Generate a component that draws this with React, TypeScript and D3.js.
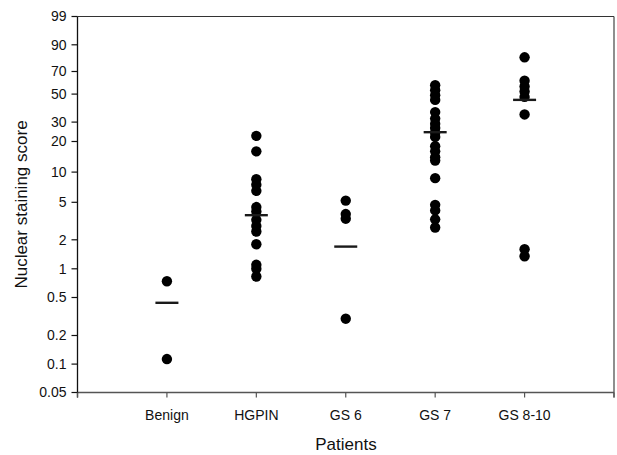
import React from "react";
import * as d3 from "d3";

// groups and their scores
const categories = ["Benign", "HGPIN", "GS 6", "GS 7", "GS 8-10"];
const benign = [0.74, 0.113];
const hgpin = [22.5, 16, 8.5, 7.5, 6.5, 4.45, 4.0, 3.26, 2.8, 2.45, 1.8, 1.1, 1.0, 0.83];
const gs6 = [5.2, 3.75, 3.35, 0.3];
const gs7 = [57, 53, 49, 45, 36, 32, 29, 26.5, 24, 22, 18, 16, 14, 13, 8.7, 4.7, 4.1, 3.3, 2.7];
const gs810 = [80, 61, 56, 52, 47.5, 34.5, 1.6, 1.35];
const means = [0.44, 3.65, 1.7, 24.3, 45];

const yTickValues = [0.05, 0.1, 0.2, 0.5, 1, 2, 5, 10, 20, 30, 50, 70, 90, 99];

const W = 617;
const H = 455;
const left = 77.5;
const right = 614;
const top = 16.5;
const bottom = 392.5;

// the y axis is a stretched log axis (probability-like at the top);
// calibrate where each tick sits as a share of the plot height
const tickShare = [0, 28.4, 57, 95, 123.7, 152.7, 190.2, 220.4, 251, 270.4, 298.4, 321, 347.7, 376].map(
    (h) => h / 376
);

const App = () => {
    const series = [benign, hgpin, gs6, gs7, gs810];

    const x = d3.scaleLinear().domain([0, categories.length + 1]).range([left, right]);
    const y = d3
        .scaleLog()
        .domain(yTickValues)
        .range(tickShare.map((s) => bottom - s * (bottom - top)));

    const font = "Arial, 'Liberation Sans', sans-serif";
    const xTicks = d3.range(0, categories.length + 2);

    return (
        <svg width={W} height={H} style={{ position: "absolute", left: 0, top: 0, background: "#fff" }}>
            {/* frame */}
            <line x1={left} x2={right} y1={top} y2={top} stroke="#333" strokeWidth={1.2} />
            <line x1={right} x2={right} y1={top} y2={bottom + 5} stroke="#444" strokeWidth={1.2} />
            <line x1={left} x2={right} y1={bottom} y2={bottom} stroke="#555" strokeWidth={1.3} />
            <line x1={left} x2={left} y1={top} y2={bottom + 5} stroke="#111" strokeWidth={1.3} />

            {/* y ticks */}
            {yTickValues.map((v) => (
                <g key={v}>
                    <line x1={left - 6} x2={left} y1={y(v)} y2={y(v)} stroke="#111" strokeWidth={1.2} />
                    <text
                        x={left - 11}
                        y={y(v)}
                        dy="0.35em"
                        textAnchor="end"
                        fontFamily={font}
                        fontSize={14}
                        fill="#111"
                    >
                        {v}
                    </text>
                </g>
            ))}

            {/* x ticks */}
            {xTicks.map((t) => (
                <line key={t} x1={x(t)} x2={x(t)} y1={bottom} y2={bottom + 5} stroke="#555" strokeWidth={1.2} />
            ))}
            {categories.map((c, i) => (
                <text
                    key={c}
                    x={x(i + 1)}
                    y={420}
                    textAnchor="middle"
                    fontFamily={font}
                    fontSize={14}
                    fill="#111"
                >
                    {c}
                </text>
            ))}

            {/* points */}
            {series.map((vals, i) =>
                vals.map((v, j) => <circle key={i + "-" + j} cx={x(i + 1)} cy={y(v)} r={5.2} fill="#000" />)
            )}

            {/* mean lines */}
            {means.map((m, i) => (
                <line
                    key={"m" + i}
                    x1={x(i + 1) - 11.5}
                    x2={x(i + 1) + 11.5}
                    y1={y(m)}
                    y2={y(m)}
                    stroke="#1a1a1a"
                    strokeWidth={2.4}
                />
            ))}

            {/* axis titles */}
            <text x={346} y={450} textAnchor="middle" fontFamily={font} fontSize={17} fill="#111">
                Patients
            </text>
            <text
                transform={`translate(27, ${(top + bottom) / 2}) rotate(-90)`}
                textAnchor="middle"
                fontFamily={font}
                fontSize={17}
                fill="#111"
            >
                Nuclear staining score
            </text>
        </svg>
    );
};

export default App;
